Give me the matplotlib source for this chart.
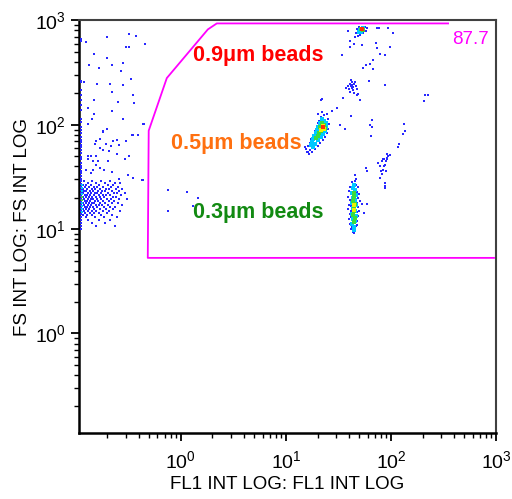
import numpy as np
import matplotlib
matplotlib.use('Agg')
import matplotlib.pyplot as plt
from matplotlib.ticker import LogLocator

# Events are kept as log10 of the intensity (decades), FL1 first, FS second.

# debris pinned at the lowest FL1 channel
edge_fl1 = -0.952
edge_fs = [2.819, 2.80, 2.419, 2.41, 2.333, 2.286, 2.238, 2.19, 2.143, 2.057, 2.029,
           1.981, 1.952, 1.924, 1.886, 1.857, 1.838, 1.81, 1.79, 1.762, 1.733, 1.695,
           1.667, 1.629, 1.60, 1.581, 1.552, 1.533, 1.505, 1.476, 1.457, 1.429, 1.40,
           1.371, 1.343, 1.314, 1.286, 1.257, 1.229, 1.20, 1.171, 1.143, 1.114, 1.086,
           1.057, 1.029, 1.0]
edge_cyan_fl1 = -0.94
edge_cyan_fs = [1.419, 1.39, 1.362, 1.333, 1.305, 1.276, 1.248, 1.219, 1.19, 1.162]
edge_green_fs = [1.305, 1.276]

# debris blob, one FS row with its FL1 values
debris_row_fs = [1.457, 1.438, 1.419, 1.400, 1.381, 1.362, 1.343, 1.324, 1.305, 1.286,
                 1.267, 1.248, 1.229, 1.210, 1.190, 1.171, 1.152, 1.133, 1.114, 1.086,
                 1.057, 1.029]
debris_row_fl1 = [
    [-0.924, -0.848, -0.762, -0.676],
    [-0.886, -0.810, -0.724, -0.629, -0.581],
    [-0.933, -0.905, -0.857, -0.781, -0.695, -0.648],
    [-0.914, -0.876, -0.829, -0.800, -0.743, -0.667, -0.600],
    [-0.933, -0.895, -0.848, -0.819, -0.771, -0.714, -0.686, -0.619, -0.562],
    [-0.924, -0.905, -0.867, -0.838, -0.790, -0.752, -0.724, -0.657, -0.590],
    [-0.933, -0.886, -0.857, -0.819, -0.800, -0.762, -0.695, -0.638, -0.610, -0.533],
    [-0.914, -0.895, -0.867, -0.829, -0.781, -0.743, -0.714, -0.676, -0.571],
    [-0.933, -0.905, -0.876, -0.848, -0.810, -0.771, -0.733, -0.648, -0.619],
    [-0.924, -0.886, -0.857, -0.838, -0.800, -0.762, -0.705, -0.667, -0.590, -0.514],
    [-0.914, -0.895, -0.867, -0.819, -0.790, -0.743, -0.686, -0.638],
    [-0.933, -0.905, -0.876, -0.848, -0.829, -0.771, -0.724, -0.657, -0.600],
    [-0.924, -0.886, -0.857, -0.810, -0.781, -0.752, -0.695, -0.562],
    [-0.914, -0.895, -0.867, -0.838, -0.800, -0.733, -0.676, -0.629],
    [-0.933, -0.905, -0.876, -0.829, -0.771, -0.714, -0.648],
    [-0.924, -0.886, -0.848, -0.810, -0.743, -0.686, -0.581],
    [-0.914, -0.867, -0.829, -0.781, -0.705],
    [-0.933, -0.895, -0.848, -0.762, -0.657],
    [-0.905, -0.819, -0.733, -0.610],
    [-0.886, -0.781, -0.676],
    [-0.848, -0.724],
    [-0.810, -0.629],
]

# scattered debris above the blob
debris_sparse = [
    (-0.705, 2.838), (-0.495, 2.867), (-0.429, 2.848), (-0.343, 2.771), (-0.524, 2.743),
    (-0.495, 2.743), (-0.905, 2.79), (-0.829, 2.676), (-0.705, 2.638), (-0.876, 2.571),
    (-0.781, 2.543), (-0.657, 2.571), (-0.552, 2.59), (-0.571, 2.514), (-0.476, 2.438),
    (-0.924, 2.41), (-0.80, 2.39), (-0.676, 2.39), (-0.552, 2.381), (-0.657, 2.314),
    (-0.457, 2.286), (-0.829, 2.238), (-0.60, 2.219), (-0.448, 2.21), (-0.886, 2.162),
    (-0.829, 2.105), (-0.657, 2.133), (-0.886, 2.01), (-0.848, 2.057), (-0.552, 2.057),
    (-0.705, 1.962), (-0.352, 2.01), (-0.743, 1.943), (-0.743, 1.933), (-0.457, 1.905),
    (-0.410, 1.905), (-0.771, 1.867), (-0.81, 1.848), (-0.648, 1.848), (-0.61, 1.857),
    (-0.524, 1.848), (-0.819, 1.819), (-0.714, 1.819), (-0.59, 1.81), (-0.667, 1.80),
    (-0.771, 1.781), (-0.743, 1.762), (-0.686, 1.752), (-0.61, 1.724), (-0.886, 1.705),
    (-0.857, 1.705), (-0.81, 1.705), (-0.533, 1.676), (-0.495, 1.705), (-0.886, 1.667),
    (-0.838, 1.657), (-0.79, 1.648), (-0.695, 1.657), (-0.81, 1.619), (-0.771, 1.59),
    (-0.905, 1.571), (-0.838, 1.571), (-0.733, 1.571), (-0.657, 1.543), (-0.857, 1.533),
    (-0.505, 1.514), (-0.457, 1.486), (-0.362, 1.467), (-0.59, 1.476), (-0.467, 1.905),
    (-0.371, 1.467), (-0.362, 2.01),
]

# 0.3 um beads
bead03_blue = [
    (1.629, 1.448), (1.657, 1.457), (1.667, 1.419), (1.610, 1.400), (1.686, 1.400),
    (1.600, 1.362), (1.676, 1.352), (1.695, 1.333), (1.590, 1.305), (1.686, 1.295),
    (1.610, 1.276), (1.705, 1.267), (1.600, 1.229), (1.686, 1.210), (1.590, 1.190),
    (1.695, 1.171), (1.610, 1.143), (1.686, 1.124), (1.600, 1.095), (1.676, 1.076),
    (1.610, 1.048), (1.667, 1.029), (1.619, 1.000), (1.657, 0.990), (1.638, 0.971),
    (1.648, 0.962), (1.629, 1.019), (1.638, 1.419), (1.619, 1.333), (1.676, 1.248),
    (1.619, 1.114), (1.676, 1.038), (1.724, 1.238), (1.743, 1.152), (1.619, 1.219),
    (1.619, 1.171), (1.676, 1.162), (1.629, 1.381), (1.667, 1.381),
]
bead03_cyan = [
    (1.638, 1.390), (1.657, 1.371), (1.629, 1.343), (1.667, 1.324), (1.638, 1.295),
    (1.657, 1.276), (1.629, 1.248), (1.667, 1.229), (1.638, 1.200), (1.657, 1.171),
    (1.629, 1.143), (1.667, 1.124), (1.638, 1.095), (1.657, 1.076), (1.629, 1.048),
    (1.648, 1.019), (1.648, 1.419), (1.648, 0.990),
]
bead03_green = [
    (1.648, 1.343), (1.648, 1.305), (1.638, 1.267), (1.657, 1.238), (1.648, 1.210),
    (1.648, 1.171), (1.638, 1.133), (1.657, 1.105), (1.648, 1.067),
]
bead03_yellow = [(1.648, 1.229), (1.648, 1.181)]

# 0.5 um beads
bead05_blue = [
    (1.390, 2.105), (1.362, 2.095), (1.333, 2.076), (1.400, 2.057), (1.314, 2.038),
    (1.410, 2.010), (1.295, 1.990), (1.400, 1.962), (1.276, 1.943), (1.390, 1.924),
    (1.257, 1.905), (1.371, 1.886), (1.238, 1.867), (1.352, 1.857), (1.229, 1.829),
    (1.324, 1.829), (1.210, 1.800), (1.305, 1.800), (1.190, 1.771), (1.276, 1.771),
    (1.200, 1.743), (1.248, 1.743), (1.219, 1.724), (1.181, 1.790), (1.257, 1.838),
    (1.286, 1.876), (1.343, 2.124), (1.305, 2.105), (1.229, 1.762), (1.210, 1.743),
    (1.305, 2.019),
]
bead05_cyan = [
    (1.343, 2.057), (1.362, 2.038), (1.324, 2.019), (1.381, 2.019), (1.305, 1.981),
    (1.381, 1.981), (1.295, 1.952), (1.371, 1.943), (1.286, 1.924), (1.352, 1.914),
    (1.267, 1.895), (1.333, 1.886), (1.257, 1.867), (1.305, 1.857), (1.248, 1.838),
    (1.276, 1.819), (1.238, 1.810), (1.257, 1.790),
]
bead05_green = [
    (1.343, 2.019), (1.362, 2.000), (1.324, 1.981), (1.333, 1.943), (1.314, 1.924),
    (1.305, 1.895), (1.286, 1.876), (1.343, 1.962), (1.371, 1.971),
]
bead05_yellow = [(1.352, 1.990), (1.333, 1.952), (1.362, 1.962)]
bead05_red = [(1.352, 1.981)]

# 0.9 um beads
bead09_blue = [
    (1.676, 2.914), (1.695, 2.933), (1.752, 2.933), (1.771, 2.924), (1.762, 2.895),
    (1.667, 2.876), (1.686, 2.848), (1.705, 2.857), (1.657, 2.838), (1.733, 2.876),
    (1.743, 2.905),
]
bead09_cyan = [(1.705, 2.905), (1.714, 2.886), (1.695, 2.886), (1.733, 2.924)]
bead09_green = [(1.714, 2.914), (1.733, 2.905)]
bead09_red = [(1.724, 2.914)]

# small cluster between the 0.5 and 0.9 um beads
star_cluster = [
    (1.629, 2.381), (1.610, 2.390), (1.648, 2.390), (1.629, 2.410), (1.629, 2.352),
    (1.590, 2.371), (1.667, 2.371), (1.619, 2.429), (1.638, 2.333), (1.600, 2.343),
    (1.657, 2.410), (1.610, 2.314), (1.648, 2.305), (1.676, 2.343), (1.686, 2.295),
    (1.571, 2.352), (1.619, 2.371), (1.638, 2.362),
]

# doublets right of the 0.3 um beads
doublets = [
    (1.962, 1.724), (1.971, 1.705), (1.924, 1.676), (1.914, 1.648), (1.962, 1.667),
    (1.943, 1.619), (1.895, 1.600), (1.924, 1.571), (1.952, 1.552), (1.914, 1.524),
    (1.895, 1.486), (1.943, 1.438), (1.943, 1.410), (1.943, 1.390), (1.876, 1.629),
    (1.990, 1.714), (1.962, 1.686), (1.933, 1.667), (1.933, 1.600), (1.905, 1.552),
    (1.952, 1.648),
]

# loose events inside the gate
gate_sparse = [
    (1.59, 2.895), (1.867, 2.924), (1.886, 2.924), (1.971, 2.924), (2.019, 2.876),
    (1.61, 2.80), (1.61, 2.743), (1.648, 2.771), (1.724, 2.762), (1.857, 2.781),
    (1.867, 2.733), (1.99, 2.743), (1.533, 2.667), (1.895, 2.676), (1.943, 2.667),
    (1.829, 2.619), (1.80, 2.581), (1.762, 2.571), (1.733, 2.543), (1.829, 2.533),
    (1.79, 2.419), (1.943, 2.381), (1.676, 2.286), (1.705, 2.238), (1.543, 2.257),
    (1.343, 2.248), (1.333, 2.238), (1.438, 2.133), (1.486, 2.162), (1.619, 2.086),
    (1.514, 2.0), (1.562, 1.962), (1.819, 2.048), (1.819, 1.981), (1.80, 2.0),
    (1.81, 1.895), (2.324, 2.286), (2.352, 2.286), (2.314, 2.229), (2.124, 2.01),
    (2.133, 1.943), (2.114, 1.914), (2.076, 1.819), (2.067, 1.790), (1.762, 1.581),
    (1.771, 1.552), (1.771, 1.238), (1.657, 1.514), (1.667, 1.476),
    (-0.124, 1.371), (-0.124, 1.171), (0.057, 1.352), (0.162, 1.295), (0.114, 1.219),
]

# gate outline (FL1, FS)
gate_fl1 = [955, 0.485, 0.495, 0.736, 1.81, 2.2, 349]
gate_fs = [5.3, 5.3, 87.7, 280, 820, 935, 935]
gate_pct = '87.7'

labels = ['0.9\u03bcm beads', '0.5\u03bcm beads', '0.3\u03bcm beads']
label_fl1 = [5.4, 3.34, 5.4]
label_fs = [464, 66, 14.5]
label_colors = ['#ff0000', '#ff7010', '#128a12']

plt.rcParams['font.family'] = ['Liberation Sans', 'DejaVu Sans']

fig = plt.figure(figsize=(5.12, 4.99), dpi=100)
ax = fig.add_axes([0.154, 0.132, 0.815, 0.828])
ax.set_xscale('log')
ax.set_yscale('log')
ax.set_xlim(10 ** -0.97, 10 ** 3.0)
ax.set_ylim(10 ** -0.955, 10 ** 3.004)

BLUE = '#2828ff'
CYAN = '#00c8ff'
GREEN = '#3cdc3c'
YELLOW = '#f0f000'
RED = '#ff3000'
S_DOT = 4.5
S_CORE = 6


def dots(pairs, color, s=S_DOT, z=3):
    arr = np.array(pairs, dtype=float)
    ax.scatter(10 ** arr[:, 0], 10 ** arr[:, 1], s=s, marker='s', c=color,
               linewidths=0, zorder=z)


# debris
ax.scatter(np.full(len(edge_fs), 10 ** edge_fl1), 10 ** np.array(edge_fs), s=S_DOT,
           marker='s', c=BLUE, linewidths=0, zorder=3)
blob = [(x, fs) for fs, row in zip(debris_row_fs, debris_row_fl1) for x in row]
dots(blob, BLUE)
dots(debris_sparse, BLUE)
ax.scatter(np.full(len(edge_cyan_fs), 10 ** edge_cyan_fl1), 10 ** np.array(edge_cyan_fs),
           s=3, marker='s', c=CYAN, linewidths=0, zorder=4)
ax.scatter(np.full(len(edge_green_fs), 10 ** edge_cyan_fl1), 10 ** np.array(edge_green_fs),
           s=3, marker='s', c=GREEN, linewidths=0, zorder=5)

# beads and other populations
for pop in [bead03_blue, bead05_blue, bead09_blue, star_cluster, doublets, gate_sparse]:
    dots(pop, BLUE)
dots(bead03_cyan, CYAN, S_CORE, 4)
dots(bead05_cyan, CYAN, S_CORE, 4)
dots(bead09_cyan, CYAN, S_CORE, 4)
dots(bead03_green, GREEN, S_CORE, 5)
dots(bead05_green, GREEN, S_CORE, 5)
dots(bead09_green, GREEN, S_CORE, 5)
dots(bead03_yellow, YELLOW, S_CORE, 6)
dots(bead05_yellow, YELLOW, S_CORE, 6)
dots(bead05_red, RED, S_CORE, 7)
dots(bead09_red, RED, S_CORE, 7)

# gate
ax.plot(gate_fl1, gate_fs, color='#ff00ff', lw=1.3, zorder=8)
ax.text(565, 659, gate_pct, color='#ff00ff', fontsize=13.5, ha='center', va='center')

for txt, x, y, col in zip(labels, label_fl1, label_fs, label_colors):
    ax.text(x, y, txt, color=col, fontsize=15.5, fontweight='bold', ha='center', va='center',
            zorder=9)

# axes styling
ax.xaxis.set_major_locator(LogLocator(base=10, numticks=10))
ax.yaxis.set_major_locator(LogLocator(base=10, numticks=10))
ax.tick_params(which='major', direction='out', length=6, width=1.3, labelsize=14)
ax.tick_params(axis='x', which='major', pad=6)
ax.tick_params(which='minor', direction='out', length=3.5, width=1.0)
for side in ['left', 'bottom']:
    ax.spines[side].set_linewidth(1.8)
    ax.spines[side].set_color('black')
for side in ['top', 'right']:
    ax.spines[side].set_linewidth(1.5)
    ax.spines[side].set_color('#404040')

ax.set_xlabel('FL1 INT LOG: FL1 INT LOG', fontsize=13.5, labelpad=3)
ax.set_ylabel('FS INT LOG: FS INT LOG', fontsize=13.5, labelpad=3)

fig.savefig('out.png', dpi=100)
